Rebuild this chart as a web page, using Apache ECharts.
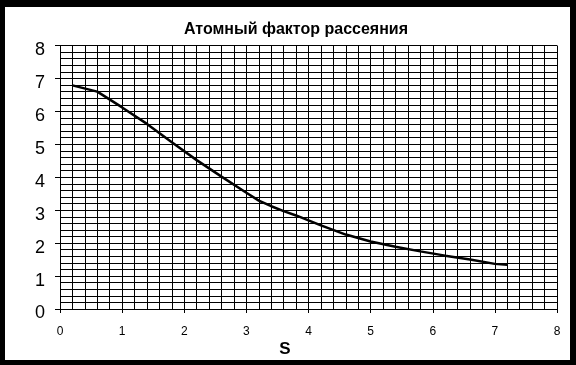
<!DOCTYPE html>
<html>
<head>
<meta charset="utf-8">
<script src="https://cdn.jsdelivr.net/npm/echarts@6/dist/echarts.min.js"></script>
<style>
html,body{margin:0;padding:0;background:#000;width:576px;height:365px;overflow:hidden;}
#c{position:absolute;left:5px;top:7px;width:565px;height:353px;background:#fff;}
</style>
</head>
<body>
<div id="c"></div>
<script>
const titleText = 'Атомный фактор рассеяния';
const xName = 'S';
const sValues = [0.2, 0.6, 1.0, 1.4, 1.8, 2.2, 2.6, 3.0, 3.2, 3.4, 3.6, 3.8, 4.2, 4.6, 5.0, 5.4, 5.8, 6.2, 6.6, 7.0, 7.2];
const fValues = [6.79, 6.60, 6.12, 5.62, 5.06, 4.52, 4.02, 3.53, 3.29, 3.12, 2.97, 2.84, 2.54, 2.26, 2.05, 1.89, 1.75, 1.62, 1.50, 1.37, 1.34];

const points = sValues.map((s, i) => [s, fValues[i]]);
const chart = echarts.init(document.getElementById('c'), null, {renderer: 'canvas'});
const font = '"Liberation Sans", Arial, sans-serif';
chart.setOption({
  animation: false,
  backgroundColor: '#fff',
  title: [
    {text: titleText, left: 286, top: 10, textAlign: 'center',
     textStyle: {fontFamily: font, fontSize: 16, fontWeight: 'bold', color: '#000'}},
    {text: xName, left: 275, top: 329, textAlign: 'center',
     textStyle: {fontFamily: font, fontSize: 17, fontWeight: 'bold', color: '#000'}}
  ],
  grid: {left: 55, top: 38.5, right: 13, bottom: 51, containLabel: false},
  xAxis: {
    type: 'value', min: 0, max: 8, interval: 1,
    axisLine: {show: true, onZero: false, lineStyle: {color: '#000', width: 1}},
    axisTick: {show: true, length: 4, lineStyle: {color: '#000'}},
    axisLabel: {fontFamily: font, fontSize: 12, color: '#000', margin: 17},
    splitLine: {show: true, lineStyle: {color: '#000', width: 1}},
    minorTick: {show: false, splitNumber: 5},
    minorSplitLine: {show: true, lineStyle: {color: '#000', width: 1}}
  },
  yAxis: {
    type: 'value', min: 0, max: 8, interval: 1,
    axisLine: {show: true, onZero: false, lineStyle: {color: '#000', width: 1}},
    axisTick: {show: true, length: 5, lineStyle: {color: '#000'}},
    axisLabel: {fontFamily: font, fontSize: 18, color: '#000', margin: 15,
                verticalAlign: 'top', lineHeight: 9},
    splitLine: {show: true, lineStyle: {color: '#000', width: 1}},
    minorTick: {show: false, splitNumber: 5},
    minorSplitLine: {show: true, lineStyle: {color: '#000', width: 1}}
  },
  series: [{
    type: 'line', data: points, showSymbol: false, smooth: false,
    lineStyle: {color: '#000', width: 2.5}
  }]
});
</script>
</body>
</html>
